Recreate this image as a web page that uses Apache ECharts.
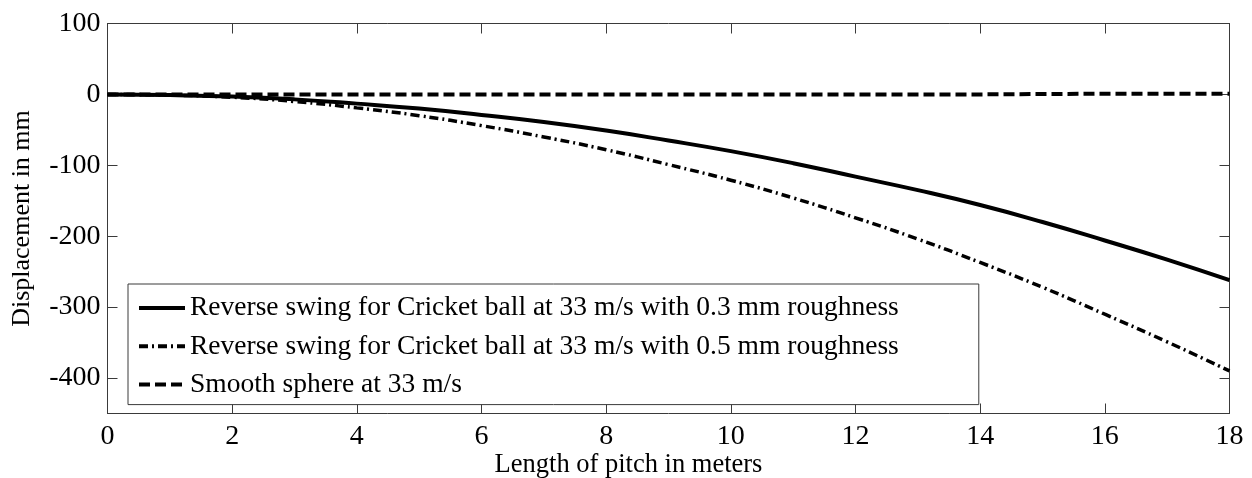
<!DOCTYPE html>
<html>
<head>
<meta charset="utf-8">
<script src="https://cdn.jsdelivr.net/npm/echarts@6/dist/echarts.min.js"></script>
<style>
  html, body { margin: 0; padding: 0; background: #fff; }
  #chart { width: 1252px; height: 478px; }
</style>
</head>
<body>
<div id="chart"></div>
<script>
// Pitch length positions (m)
const pitchLength = [0, 1, 2, 3, 4, 5, 6, 7, 8, 9, 10, 11, 12, 13, 14, 15, 16, 17, 18];

// Lateral displacement (mm) for each case
const rough03 = [0, -1, -3, -7, -13, -20, -29, -39, -51, -65, -80, -97, -116, -135, -156, -180, -206, -233, -262];
const rough05 = [0, -1, -4, -10, -19, -30, -44, -60, -78, -99, -121, -146, -174, -204, -237, -272, -310, -349, -390];
const smooth  = [0, 0, 0, 0, 0, 0, 0, 0, 0, 0, 0, 0, 0, 0, 0, 0.5, 1, 1, 1];

const seriesNames = [
  'Reverse swing for Cricket ball at 33 m/s with 0.3 mm roughness',
  'Reverse swing for Cricket ball at 33 m/s with 0.5 mm roughness',
  'Smooth sphere at 33 m/s'
];

const yTicks = [-400, -300, -200, -100, 0, 100];

const FONT = "'Liberation Serif', 'Times New Roman', serif";
const AXIS_COLOR = '#3a3a3a';

const pairs = ys => pitchLength.map((x, i) => [x, ys[i]]);

const chart = echarts.init(document.getElementById('chart'), null, { renderer: 'canvas' });

const tickStyle = { show: true, inside: true, length: 10, lineStyle: { color: AXIS_COLOR, width: 1 } };
const boxAxis = {
  axisLine: { show: true, onZero: false, lineStyle: { color: AXIS_COLOR, width: 1 } },
  axisTick: tickStyle,
  splitLine: { show: false }
};

chart.setOption({
  animation: false,
  backgroundColor: '#fff',
  grid: { left: 107.5, right: 22.5, top: 23.5, bottom: 64.5, containLabel: false, outerBoundsMode: 'none' },
  xAxis: [
    Object.assign({
      type: 'value', min: 0, max: 18, interval: 2, position: 'bottom',
      name: 'Length of pitch in meters', nameLocation: 'middle', nameGap: 38, nameMoveOverlap: false,
      nameTextStyle: { fontFamily: FONT, fontSize: 26.5, color: '#000', padding: [0, 80, 0, 0] },
      axisLabel: { fontFamily: FONT, fontSize: 28, color: '#000', margin: 9 }
    }, boxAxis),
    Object.assign({
      type: 'value', min: 0, max: 18, interval: 2, position: 'top',
      axisLabel: { show: false }
    }, boxAxis)
  ],
  yAxis: [
    Object.assign({
      type: 'value', min: -450, max: 100, position: 'left',
      name: 'Displacement in mm', nameLocation: 'middle', nameGap: 72, nameMoveOverlap: false,
      nameTextStyle: { fontFamily: FONT, fontSize: 26, color: '#000' },
      axisLabel: { fontFamily: FONT, fontSize: 28, color: '#000', margin: 7, customValues: yTicks }
    }, boxAxis, {
      axisTick: Object.assign({ customValues: yTicks }, tickStyle)
    }),
    Object.assign({
      type: 'value', min: -450, max: 100, position: 'right',
      axisLabel: { show: false }
    }, boxAxis, {
      axisTick: Object.assign({ customValues: yTicks }, tickStyle)
    })
  ],
  legend: {
    show: true,
    orient: 'vertical',
    left: 128, top: 284,
    padding: [9, 80, 5, 9],
    backgroundColor: '#fff',
    borderColor: AXIS_COLOR,
    borderWidth: 1,
    borderRadius: 0,
    itemWidth: 46,
    itemHeight: 14,
    itemGap: 8.3,
    itemStyle: { color: 'rgba(0,0,0,0)', borderWidth: 0, opacity: 0 },
    lineStyle: { width: 4 },
    textStyle: { fontFamily: FONT, fontSize: 27.5, color: '#000', lineHeight: 30 },
    data: seriesNames
  },
  series: [
    {
      name: seriesNames[0], type: 'line', data: pairs(rough03),
      showSymbol: false, symbol: 'none', smooth: true,
      lineStyle: { color: '#000', width: 4, type: 'solid' },
      itemStyle: { color: '#000' }
    },
    {
      name: seriesNames[1], type: 'line', data: pairs(rough05),
      showSymbol: false, symbol: 'none', smooth: true,
      lineStyle: { color: '#000', width: 3.5, type: [9, 4, 2, 4] },
      itemStyle: { color: '#000' }
    },
    {
      name: seriesNames[2], type: 'line', data: pairs(smooth),
      showSymbol: false, symbol: 'none', smooth: false,
      lineStyle: { color: '#000', width: 4, type: [11, 5] },
      itemStyle: { color: '#000' }
    }
  ]
});
</script>
</body>
</html>
